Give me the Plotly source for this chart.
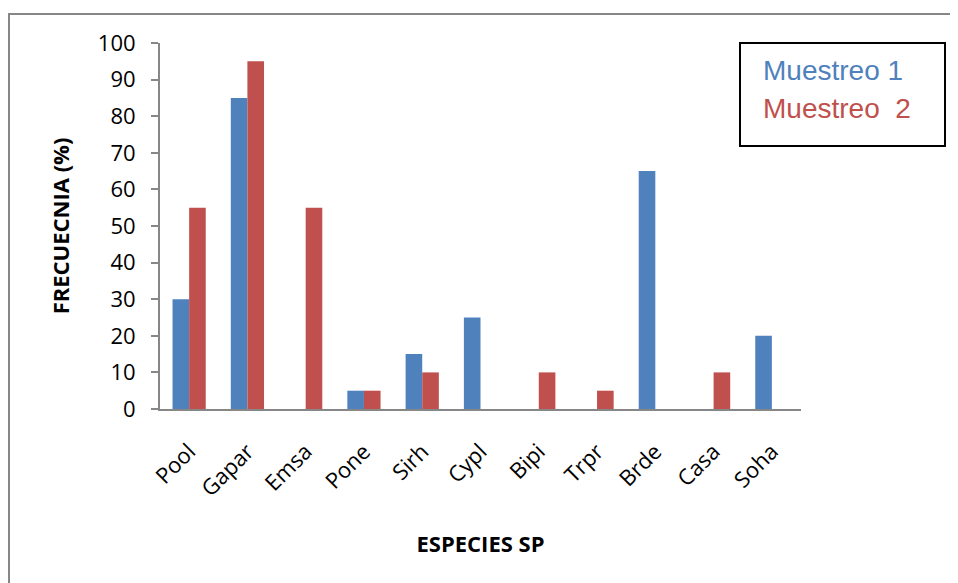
import plotly.graph_objects as go

categories = ["Pool", "Gapar", "Emsa", "Pone", "Sirh", "Cypl", "Bipi", "Trpr", "Brde", "Casa", "Soha"]
muestreo1 = [30, 85, 0, 5, 15, 25, 0, 0, 65, 0, 20]
muestreo2 = [55, 95, 55, 5, 10, 0, 10, 5, 0, 10, 0]
series_names = ["Muestreo 1", "Muestreo  2"]
y_ticks = [0, 10, 20, 30, 40, 50, 60, 70, 80, 90, 100]

BLUE = "#4F81BD"
RED = "#C0504D"
GRAY = "#878787"

OFF = 8  # page body margin offset
W, H = 958 - OFF, 583 - OFF
# target plot area in screen pixels: x 160..801, y 43..409
L, T = 160 - OFF, 43 - OFF
pw, ph = 801 - 160, 409 - 43
R = W - L - pw
B = H - T - ph


def px(x):
    return (x - OFF - L) / pw


def py(y):
    return (T + ph - (y - OFF)) / ph


fig = go.Figure()
fig.add_trace(go.Bar(x=categories, y=muestreo1, name=series_names[0],
                     marker=dict(color=BLUE, line=dict(width=0))))
fig.add_trace(go.Bar(x=categories, y=muestreo2, name=series_names[1],
                     marker=dict(color=RED, line=dict(width=0))))

fig.update_layout(
    width=W, height=H,
    margin=dict(l=L, r=R, t=T, b=B, pad=0),
    paper_bgcolor="white", plot_bgcolor="white",
    barmode="group", bargap=0.43, bargroupgap=0,
    showlegend=False,
    font=dict(family="Open Sans", color="black"),
)
fig.update_xaxes(
    showline=True, linecolor=GRAY, linewidth=2,
    showgrid=False, ticks="", tickangle=-45,
    tickfont=dict(family="Open Sans", size=22, color="black"),
    ticklabelstandoff=19,
    title=dict(text="<b>ESPECIES SP</b>", font=dict(family="Open Sans", size=22, color="black"), standoff=36),
    automargin=False,
)
fig.update_yaxes(
    range=[0, 100], tickvals=y_ticks,
    showline=True, linecolor=GRAY, linewidth=2,
    showgrid=False, zeroline=False,
    ticks="outside", ticklen=7, tickwidth=2, tickcolor=GRAY,
    tickfont=dict(family="Open Sans", size=22, color="black"),
    ticklabelstandoff=11,
    title=dict(text="<b>FRECUECNIA (%)</b>", font=dict(family="Open Sans", size=22, color="black"), standoff=22),
    automargin=False,
)

# outer chart border: only the top and left edges are visible in the frame
fig.add_shape(type="line", xref="paper", yref="paper",
              x0=px(8), x1=px(958), y0=py(14), y1=py(14),
              line=dict(color=GRAY, width=2))
fig.add_shape(type="line", xref="paper", yref="paper",
              x0=px(9), x1=px(9), y0=py(13), y1=py(583),
              line=dict(color=GRAY, width=2))
# legend box
fig.add_shape(type="rect", xref="paper", yref="paper",
              x0=px(740), x1=px(945), y0=py(146), y1=py(43),
              line=dict(color="black", width=2))
fig.add_annotation(xref="paper", yref="paper", x=px(761), y=py(71),
                   xanchor="left", yanchor="middle", showarrow=False,
                   text=series_names[0],
                   font=dict(family="Liberation Sans", size=28, color=BLUE))
fig.add_annotation(xref="paper", yref="paper", x=px(761), y=py(109),
                   xanchor="left", yanchor="middle", showarrow=False,
                   text=series_names[1].replace("  ", "&nbsp; "),
                   font=dict(family="Liberation Sans", size=28, color=RED))

fig.write_html("out.html")
